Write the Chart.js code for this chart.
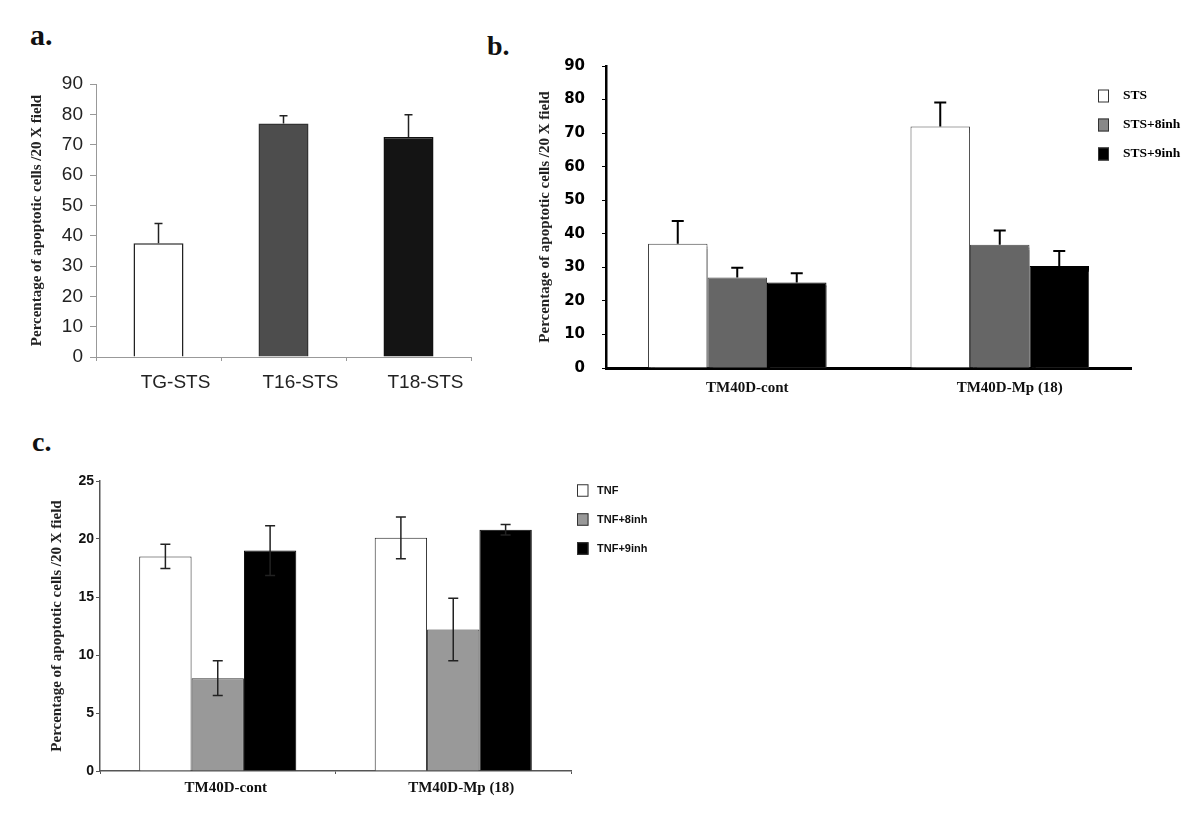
<!DOCTYPE html>
<html>
<head>
<meta charset="utf-8">
<script src="https://cdn.jsdelivr.net/npm/chart.js@4"></script>
<style>
  body { margin: 0; background: #fff; width: 1200px; height: 817px; position: relative; overflow: hidden; }
  canvas { position: absolute; }
  .tag { position: absolute; font: bold 28px "Liberation Serif"; line-height: 28px; color: #111; }
</style>
</head>
<body>
<div class="tag" style="left:30px;top:20px;font-size:30px;line-height:30px">a.</div>
<div class="tag" style="left:487px;top:32px">b.</div>
<div class="tag" style="left:32px;top:428px">c.</div>

<canvas id="chartA" width="480" height="350" style="left:0;top:60px"></canvas>
<canvas id="chartB" width="700" height="390" style="left:500px;top:30px"></canvas>
<canvas id="chartC" width="700" height="367" style="left:0;top:450px"></canvas>

<script>
const yTitle = "Percentage of apoptotic cells /20 X field";

// panel a
const aLabels = ["TG-STS", "T16-STS", "T18-STS"];
const aValues = [37.5, 77, 72.5];
const aErrors = [6.5, 2.5, 7.4];

// panel b
const bLabels = ["TM40D-cont", "TM40D-Mp (18)"];
const bSeries = ["STS", "STS+8inh", "STS+9inh"];
const bSTS = [37, 72];
const bSTS8 = [27, 36.7];
const bSTS9 = [25.5, 30.4];
const bErrSTS = [6.8, 7.1];
const bErrSTS8 = [2.9, 4.3];
const bErrSTS9 = [2.7, 4.5];

// panel c
const cLabels = ["TM40D-cont", "TM40D-Mp (18)"];
const cSeries = ["TNF", "TNF+8inh", "TNF+9inh"];
const cTNF = [18.5, 20.1];
const cTNF8 = [8.0, 12.2];
const cTNF9 = [19.0, 20.8];
const cErrTNF = [1.05, 1.8];
const cErrTNF8 = [1.5, 2.7];
const cErrTNF9 = [2.15, 0.45];

// drop shadow behind the bars (panel b)
const barShadow = {
  id: "barShadow",
  beforeDatasetsDraw(chart, args, o) {
    if (!o.show) return;
    const ctx = chart.ctx;
    ctx.save();
    ctx.shadowColor = o.color;
    ctx.shadowOffsetX = o.dx;
    ctx.shadowOffsetY = o.dy;
    ctx.shadowBlur = o.blur;
  },
  afterDatasetsDraw(chart, args, o) {
    if (!o.show) return;
    chart.ctx.restore();
  }
};

// error bars drawn from the y scale
const errorBars = {
  id: "errorBars",
  afterDatasetsDraw(chart, args, opts) {
    const ctx = chart.ctx;
    const y = chart.scales.y;
    ctx.save();
    ctx.strokeStyle = opts.color;
    ctx.lineWidth = opts.lineWidth;
    chart.data.datasets.forEach((ds, di) => {
      chart.getDatasetMeta(di).data.forEach((bar, i) => {
        const v = ds.data[i], e = ds.errors[i];
        const top = y.getPixelForValue(v + e);
        const bottom = opts.both ? y.getPixelForValue(v - e) : bar.y;
        const half = opts.cap / 2;
        ctx.beginPath();
        ctx.moveTo(bar.x, bottom);
        ctx.lineTo(bar.x, top);
        ctx.moveTo(bar.x - half, top);
        ctx.lineTo(bar.x + half, top);
        if (opts.both) {
          ctx.moveTo(bar.x - half, bottom);
          ctx.lineTo(bar.x + half, bottom);
        }
        ctx.stroke();
      });
    });
    ctx.restore();
  }
};

// small legend with square swatches
const boxLegend = {
  id: "boxLegend",
  afterDraw(chart, args, o) {
    if (!o.show) return;
    const ctx = chart.ctx;
    ctx.save();
    ctx.font = o.font;
    ctx.textBaseline = "middle";
    chart.data.datasets.forEach((ds, i) => {
      const cy = o.y + i * o.gap;
      ctx.fillStyle = o.fills[i];
      ctx.fillRect(o.x, cy - o.h / 2, o.w, o.h);
      ctx.strokeStyle = o.stroke;
      ctx.lineWidth = 1;
      ctx.strokeRect(o.x + 0.5, cy - o.h / 2 + 0.5, o.w - 1, o.h - 1);
      ctx.fillStyle = o.color;
      ctx.fillText(ds.label, o.textX, cy);
    });
    ctx.restore();
  }
};

const titleFont = { family: "Liberation Serif", size: 15, weight: "bold" };

// ---------- a ----------
new Chart(document.getElementById("chartA"), {
  type: "bar",
  data: {
    labels: aLabels,
    datasets: [{
      label: "a",
      data: aValues,
      errors: aErrors,
      backgroundColor: ["#ffffff", "#4d4d4d", "#141414"],
      borderColor: ["#222", "#333", "#111"],
      borderWidth: 1.5,
      barPercentage: 0.4,
      categoryPercentage: 1
    }]
  },
  options: {
    responsive: false,
    animation: false,
    layout: { padding: { top: 24, right: 9, left: 0, bottom: 0 } },
    plugins: {
      legend: { display: false },
      tooltip: { enabled: false },
      barShadow: { show: false },
      errorBars: { color: "#222", lineWidth: 1.5, cap: 8, both: false },
      boxLegend: { show: false }
    },
    scales: {
      x: {
        grid: { drawOnChartArea: false, tickLength: 4, color: "#999", offset: true },
        border: { color: "#999", width: 1 },
        ticks: { font: { family: "Liberation Sans", size: 19 }, color: "#222", padding: 10, labelOffset: 17 },
        afterFit(s) { s.height = 53; }
      },
      y: {
        min: 0, max: 90,
        ticks: { stepSize: 10, font: { family: "Liberation Sans", size: 19 }, color: "#222", padding: 7 },
        grid: { drawOnChartArea: false, tickLength: 6, color: "#999" },
        border: { color: "#999", width: 1 },
        title: { display: true, text: yTitle, font: titleFont, color: "#222", padding: { top: 28, bottom: 0 } },
        afterFit(s) { s.width = 96; }
      }
    }
  },
  plugins: [barShadow, errorBars, boxLegend]
});

// ---------- b ----------
new Chart(document.getElementById("chartB"), {
  type: "bar",
  data: {
    labels: bLabels,
    datasets: [
      { label: bSeries[0], data: bSTS, errors: bErrSTS, backgroundColor: "#ffffff", borderColor: "#444", borderWidth: 1 },
      { label: bSeries[1], data: bSTS8, errors: bErrSTS8, backgroundColor: "#666666", borderColor: "#4a4a4a", borderWidth: 1 },
      { label: bSeries[2], data: bSTS9, errors: bErrSTS9, backgroundColor: "#000000", borderColor: "#000", borderWidth: 1 }
    ]
  },
  options: {
    responsive: false,
    animation: false,
    datasets: { bar: { barPercentage: 1, categoryPercentage: 0.68 } },
    layout: { padding: { top: 36, right: 69, left: 0, bottom: 0 } },
    plugins: {
      legend: { display: false },
      tooltip: { enabled: false },
      barShadow: { show: true, color: "rgba(90,90,90,0.8)", dx: 3, dy: 3, blur: 1 },
      errorBars: { color: "#000", lineWidth: 2, cap: 12, both: false },
      boxLegend: {
        show: true, x: 598, y: 66, gap: 29, w: 11, h: 13, textX: 623,
        fills: ["#ffffff", "#888888", "#000000"], stroke: "#333",
        font: "bold 13.5px 'Liberation Serif'", color: "#000"
      }
    },
    scales: {
      x: {
        grid: { drawOnChartArea: false, drawTicks: false },
        border: { color: "#000", width: 3 },
        ticks: { font: { family: "Liberation Serif", size: 15, weight: "bold" }, color: "#111", padding: 11, labelOffset: 10 },
        afterFit(s) { s.height = 52; }
      },
      y: {
        min: 0, max: 90,
        ticks: { stepSize: 10, font: { family: "DejaVu Sans", size: 15, weight: "bold" }, color: "#000", padding: 17 },
        grid: { drawOnChartArea: false, tickLength: 4, color: "#000" },
        border: { color: "#000", width: 2.5 },
        title: { display: true, text: yTitle, font: titleFont, color: "#222", padding: { top: 36, bottom: 0 } },
        afterFit(s) { s.width = 106; }
      }
    }
  },
  plugins: [barShadow, errorBars, boxLegend]
});

// ---------- c ----------
new Chart(document.getElementById("chartC"), {
  type: "bar",
  data: {
    labels: cLabels,
    datasets: [
      { label: cSeries[0], data: cTNF, errors: cErrTNF, backgroundColor: "#ffffff", borderColor: "#222", borderWidth: 1 },
      { label: cSeries[1], data: cTNF8, errors: cErrTNF8, backgroundColor: "#999999", borderColor: "#333", borderWidth: 1 },
      { label: cSeries[2], data: cTNF9, errors: cErrTNF9, backgroundColor: "#000000", borderColor: "#000", borderWidth: 1 }
    ]
  },
  options: {
    responsive: false,
    animation: false,
    datasets: { bar: { barPercentage: 1, categoryPercentage: 0.667 } },
    layout: { padding: { top: 31, right: 129, left: 0, bottom: 0 } },
    plugins: {
      legend: { display: false },
      tooltip: { enabled: false },
      barShadow: { show: false },
      errorBars: { color: "#222", lineWidth: 1.5, cap: 10, both: true },
      boxLegend: {
        show: true, x: 577, y: 40.5, gap: 29, w: 11.5, h: 12.5, textX: 597,
        fills: ["#ffffff", "#999999", "#000000"], stroke: "#333",
        font: "bold 11px 'Liberation Sans'", color: "#111"
      }
    },
    scales: {
      x: {
        grid: { drawOnChartArea: false, tickLength: 3, color: "#555", offset: true },
        border: { color: "#555", width: 1.5 },
        ticks: { font: { family: "Liberation Serif", size: 15, weight: "bold" }, color: "#111", padding: 5, labelOffset: 8 },
        afterFit(s) { s.height = 46; }
      },
      y: {
        min: 0, max: 25,
        ticks: { stepSize: 5, font: { family: "Liberation Sans", size: 14, weight: "bold" }, color: "#111", padding: 2 },
        grid: { drawOnChartArea: false, tickLength: 4, color: "#555" },
        border: { color: "#555", width: 1.5 },
        title: { display: true, text: yTitle, font: titleFont, color: "#222", padding: { top: 48, bottom: 0 } },
        afterFit(s) { s.width = 100; }
      }
    }
  },
  plugins: [barShadow, errorBars, boxLegend]
});
</script>
</body>
</html>
